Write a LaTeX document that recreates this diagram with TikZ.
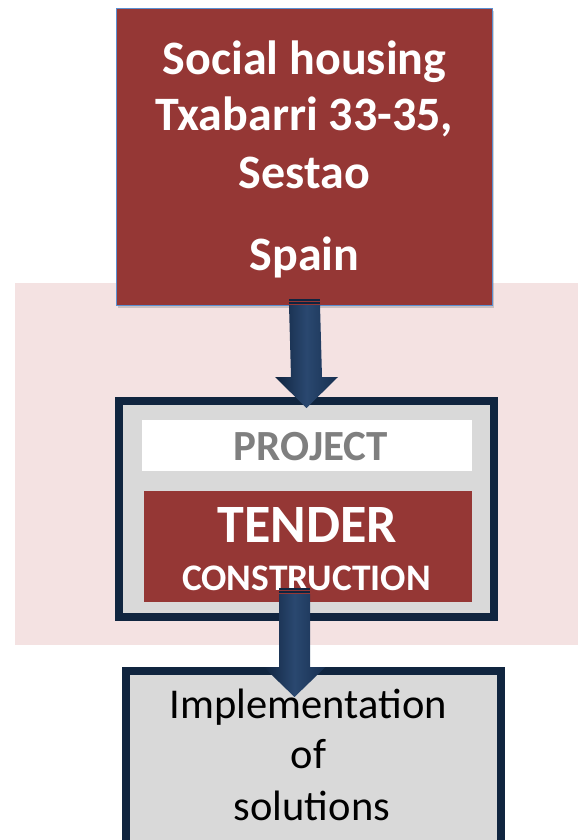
\documentclass[tikz,border=0pt]{standalone}
\usepackage{fontspec}
\setmainfont{Carlito}
\usetikzlibrary{calc,shadows}
\definecolor{brick}{HTML}{953735}
\definecolor{navyd}{HTML}{10253F}
\definecolor{arrowd}{HTML}{10243F}
\definecolor{arrowm}{HTML}{172F50}
\definecolor{arrowl}{HTML}{2A4870}
\definecolor{pinkbg}{HTML}{F4E2E2}
\definecolor{boxgrey}{HTML}{D9D9D9}
\definecolor{txtgrey}{HTML}{7F7F7F}
\definecolor{edgeblue}{HTML}{5B8FD0}
\tikzset{
  redbox/.style={draw=edgeblue, line width=1.2pt, fill=brick, inner sep=0pt,
    drop shadow={shadow xshift=1.5pt, shadow yshift=-2.5pt, opacity=0.35}},
  navybox/.style={draw=navyd, line width=7.7pt, fill=boxgrey, inner sep=0pt},
  plainrect/.style={inner sep=0pt, draw=none},
  whitebig/.style={text=white, font=\bfseries\fontsize{48}{50}\selectfont, anchor=base},
  blacktxt/.style={text=black, font=\fontsize{42.5}{44}\selectfont, anchor=base},
  arrowshade/.style={left color=arrowd, right color=arrowm, middle color=arrowl},
  capline/.style={draw=arrowd, line width=1.5pt},
}
\begin{document}
\begin{tikzpicture}[x=1pt,y=-1pt]
\useasboundingbox (0,0) rectangle (578,840);
\clip (0,0) rectangle (578,840);
% pink background band
\fill[pinkbg] (15,283) rectangle (578,645);
% top box
\node[redbox, minimum width=376pt, minimum height=297pt] (top) at (304.5,157) {};
\node[whitebig] (t1) at (304.5,75) {Social housing};
\node[whitebig] (t2) at (304.5,131) {Txabarri 33-35,};
\node[whitebig] (t3) at (304.5,188) {Sestao};
\node[whitebig] (t4) at (304.5,270) {Spain};
% middle box
\node[navybox, minimum width=375.3pt, minimum height=216.3pt] (mid) at (306.5,509) {};
\node[plainrect, fill=white, minimum width=330pt, minimum height=51pt] (proj) at (307,445.5) {};
\node[anchor=base, text=txtgrey, font=\bfseries\fontsize{43}{45}\selectfont] (projt) at (311,460) {PROJECT};
\node[plainrect, fill=brick, minimum width=328pt, minimum height=111pt] (tend) at (308,546.5) {};
\node[anchor=base, text=white, font=\bfseries\fontsize{54}{56}\selectfont] (tendt) at (307.5,542) {TENDER};
\node[anchor=base, text=white, font=\bfseries\fontsize{37.5}{40}\selectfont] (const) at (306.5,590) {CONSTRUCTION};
% bottom box
\node[navybox, minimum width=375.3pt, minimum height=220pt] (bot) at (313.5,780.85) {};
\node[blacktxt] (b1) at (308.5,718) {Implementation};
\node[blacktxt] (b2) at (308.5,768) {of};
\node[blacktxt] (b3) at (312,820) {solutions};
% arrow 1: top -> mid
\coordinate (a1s) at ($(top.south)+(0,-1)$);
\coordinate (a1t) at ($(mid.north)+(0,11)$);
\shade[arrowshade] ($(a1s)+(-15.5,0)$) -- ($(a1s)+(15.5,0)$) -- ($(a1t)+(15.5,-31)$) -- ($(a1t)+(31.5,-31)$) -- (a1t) -- ($(a1t)+(-31.5,-31)$) -- ($(a1t)+(-15.5,-31)$) -- cycle;
\draw[capline] ($(a1s)+(-15.5,-5)$) -- ($(a1s)+(15.5,-5)$);
\draw[capline] ($(a1s)+(-15.5,-2)$) -- ($(a1s)+(15.5,-2)$);
% arrow 2: mid -> bot
\coordinate (a2s) at ($(mid.south)+(-12,-27)$);
\coordinate (a2t) at ($(bot.north)+(-19,30)$);
\shade[arrowshade] ($(a2s)+(-15.5,0)$) -- ($(a2s)+(15.5,0)$) -- ($(a2t)+(15.5,-30)$) -- ($(a2t)+(31,-30)$) -- (a2t) -- ($(a2t)+(-31,-30)$) -- ($(a2t)+(-15.5,-30)$) -- cycle;
\draw[capline] ($(a2s)+(-15.5,-5)$) -- ($(a2s)+(15.5,-5)$);
\draw[capline] ($(a2s)+(-15.5,-2)$) -- ($(a2s)+(15.5,-2)$);
\end{tikzpicture}
\end{document}
